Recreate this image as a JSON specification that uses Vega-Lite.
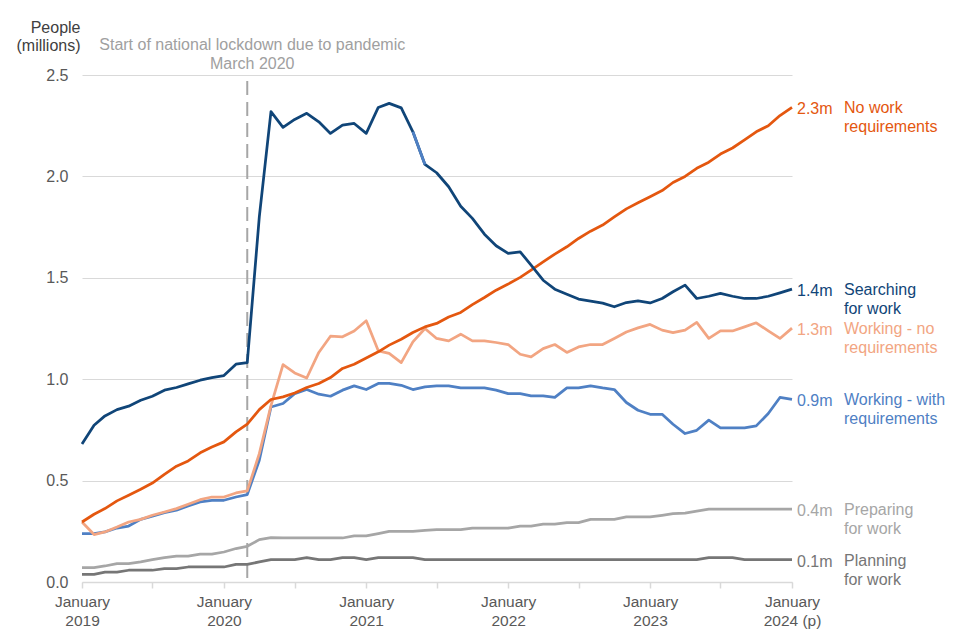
{
  "$schema": "https://vega.github.io/schema/vega-lite/v6.json",
  "width": 710,
  "height": 507,
  "autosize": {"type": "none"},
  "padding": {"left": 82, "top": 75, "right": 168, "bottom": 58},
  "background": "white",
  "config": {
    "font": "Liberation Sans",
    "view": {"stroke": null}
  },
  "datasets": {
    "main": [
      {"m": "2019/01/01", "search": 0.68, "nowork": 0.296, "worknoreq": 0.296, "workwith": 0.239, "prep": 0.071, "plan": 0.038},
      {"m": "2019/02/01", "search": 0.773, "nowork": 0.334, "worknoreq": 0.234, "workwith": 0.239, "prep": 0.071, "plan": 0.038},
      {"m": "2019/03/01", "search": 0.819, "nowork": 0.362, "worknoreq": 0.247, "workwith": 0.247, "prep": 0.079, "plan": 0.049},
      {"m": "2019/04/01", "search": 0.85, "nowork": 0.4, "worknoreq": 0.271, "workwith": 0.266, "prep": 0.091, "plan": 0.049},
      {"m": "2019/05/01", "search": 0.867, "nowork": 0.428, "worknoreq": 0.296, "workwith": 0.276, "prep": 0.091, "plan": 0.058},
      {"m": "2019/06/01", "search": 0.896, "nowork": 0.457, "worknoreq": 0.309, "workwith": 0.309, "prep": 0.099, "plan": 0.058},
      {"m": "2019/07/01", "search": 0.916, "nowork": 0.488, "worknoreq": 0.329, "workwith": 0.324, "prep": 0.11, "plan": 0.058},
      {"m": "2019/08/01", "search": 0.946, "nowork": 0.531, "worknoreq": 0.345, "workwith": 0.342, "prep": 0.12, "plan": 0.066},
      {"m": "2019/09/01", "search": 0.959, "nowork": 0.571, "worknoreq": 0.362, "workwith": 0.354, "prep": 0.128, "plan": 0.066},
      {"m": "2019/10/01", "search": 0.977, "nowork": 0.597, "worknoreq": 0.383, "workwith": 0.375, "prep": 0.128, "plan": 0.074},
      {"m": "2019/11/01", "search": 0.995, "nowork": 0.637, "worknoreq": 0.406, "workwith": 0.395, "prep": 0.137, "plan": 0.074},
      {"m": "2019/12/01", "search": 1.008, "nowork": 0.666, "worknoreq": 0.419, "workwith": 0.403, "prep": 0.137, "plan": 0.074},
      {"m": "2020/01/01", "search": 1.018, "nowork": 0.691, "worknoreq": 0.419, "workwith": 0.403, "prep": 0.148, "plan": 0.074},
      {"m": "2020/02/01", "search": 1.074, "nowork": 0.74, "worknoreq": 0.439, "workwith": 0.419, "prep": 0.165, "plan": 0.087},
      {"m": "2020/03/01", "search": 1.082, "nowork": 0.778, "worknoreq": 0.449, "workwith": 0.431, "prep": 0.176, "plan": 0.087},
      {"m": "2020/04/01", "search": 1.8, "nowork": 0.85, "worknoreq": 0.633, "workwith": 0.6, "prep": 0.209, "plan": 0.099},
      {"m": "2020/05/01", "search": 2.319, "nowork": 0.9, "worknoreq": 0.87, "workwith": 0.863, "prep": 0.219, "plan": 0.11},
      {"m": "2020/06/01", "search": 2.242, "nowork": 0.913, "worknoreq": 1.072, "workwith": 0.88, "prep": 0.217, "plan": 0.11},
      {"m": "2020/07/01", "search": 2.281, "nowork": 0.932, "worknoreq": 1.031, "workwith": 0.929, "prep": 0.217, "plan": 0.11},
      {"m": "2020/08/01", "search": 2.311, "nowork": 0.959, "worknoreq": 1.006, "workwith": 0.949, "prep": 0.217, "plan": 0.12},
      {"m": "2020/09/01", "search": 2.269, "nowork": 0.979, "worknoreq": 1.132, "workwith": 0.926, "prep": 0.217, "plan": 0.11},
      {"m": "2020/10/01", "search": 2.212, "nowork": 1.008, "worknoreq": 1.212, "workwith": 0.916, "prep": 0.217, "plan": 0.11},
      {"m": "2020/11/01", "search": 2.253, "nowork": 1.053, "worknoreq": 1.209, "workwith": 0.946, "prep": 0.217, "plan": 0.12},
      {"m": "2020/12/01", "search": 2.261, "nowork": 1.074, "worknoreq": 1.238, "workwith": 0.967, "prep": 0.227, "plan": 0.12},
      {"m": "2021/01/01", "search": 2.212, "nowork": 1.105, "worknoreq": 1.288, "workwith": 0.949, "prep": 0.227, "plan": 0.11},
      {"m": "2021/02/01", "search": 2.34, "nowork": 1.135, "worknoreq": 1.14, "workwith": 0.979, "prep": 0.239, "plan": 0.12},
      {"m": "2021/03/01", "search": 2.36, "nowork": 1.168, "worknoreq": 1.127, "workwith": 0.979, "prep": 0.25, "plan": 0.12},
      {"m": "2021/04/01", "search": 2.338, "nowork": 1.197, "worknoreq": 1.082, "workwith": 0.97, "prep": 0.25, "plan": 0.12},
      {"m": "2021/05/01", "search": 2.22, "nowork": 1.23, "worknoreq": 1.184, "workwith": 0.949, "prep": 0.25, "plan": 0.12},
      {"m": "2021/06/01", "search": 2.059, "nowork": 1.258, "worknoreq": 1.25, "workwith": 0.962, "prep": 0.255, "plan": 0.11},
      {"m": "2021/07/01", "search": 2.018, "nowork": 1.275, "worknoreq": 1.201, "workwith": 0.967, "prep": 0.258, "plan": 0.11},
      {"m": "2021/08/01", "search": 1.949, "nowork": 1.307, "worknoreq": 1.189, "workwith": 0.967, "prep": 0.258, "plan": 0.11},
      {"m": "2021/09/01", "search": 1.853, "nowork": 1.329, "worknoreq": 1.222, "workwith": 0.957, "prep": 0.258, "plan": 0.11},
      {"m": "2021/10/01", "search": 1.793, "nowork": 1.368, "worknoreq": 1.189, "workwith": 0.957, "prep": 0.266, "plan": 0.11},
      {"m": "2021/11/01", "search": 1.715, "nowork": 1.403, "worknoreq": 1.189, "workwith": 0.957, "prep": 0.266, "plan": 0.11},
      {"m": "2021/12/01", "search": 1.658, "nowork": 1.439, "worknoreq": 1.181, "workwith": 0.946, "prep": 0.266, "plan": 0.11},
      {"m": "2022/01/01", "search": 1.62, "nowork": 1.469, "worknoreq": 1.171, "workwith": 0.929, "prep": 0.266, "plan": 0.11},
      {"m": "2022/02/01", "search": 1.628, "nowork": 1.502, "worknoreq": 1.123, "workwith": 0.929, "prep": 0.276, "plan": 0.11},
      {"m": "2022/03/01", "search": 1.562, "nowork": 1.538, "worknoreq": 1.11, "workwith": 0.918, "prep": 0.276, "plan": 0.11},
      {"m": "2022/04/01", "search": 1.488, "nowork": 1.579, "worknoreq": 1.151, "workwith": 0.918, "prep": 0.285, "plan": 0.11},
      {"m": "2022/05/01", "search": 1.444, "nowork": 1.617, "worknoreq": 1.171, "workwith": 0.91, "prep": 0.285, "plan": 0.11},
      {"m": "2022/06/01", "search": 1.419, "nowork": 1.653, "worknoreq": 1.132, "workwith": 0.957, "prep": 0.293, "plan": 0.11},
      {"m": "2022/07/01", "search": 1.395, "nowork": 1.694, "worknoreq": 1.159, "workwith": 0.957, "prep": 0.293, "plan": 0.11},
      {"m": "2022/08/01", "search": 1.385, "nowork": 1.73, "worknoreq": 1.171, "workwith": 0.967, "prep": 0.309, "plan": 0.11},
      {"m": "2022/09/01", "search": 1.375, "nowork": 1.76, "worknoreq": 1.171, "workwith": 0.957, "prep": 0.309, "plan": 0.11},
      {"m": "2022/10/01", "search": 1.357, "nowork": 1.8, "worknoreq": 1.201, "workwith": 0.949, "prep": 0.309, "plan": 0.11},
      {"m": "2022/11/01", "search": 1.378, "nowork": 1.84, "worknoreq": 1.233, "workwith": 0.885, "prep": 0.321, "plan": 0.11},
      {"m": "2022/12/01", "search": 1.386, "nowork": 1.87, "worknoreq": 1.253, "workwith": 0.847, "prep": 0.321, "plan": 0.11},
      {"m": "2023/01/01", "search": 1.376, "nowork": 1.9, "worknoreq": 1.27, "workwith": 0.827, "prep": 0.321, "plan": 0.11},
      {"m": "2023/02/01", "search": 1.398, "nowork": 1.93, "worknoreq": 1.242, "workwith": 0.827, "prep": 0.329, "plan": 0.11},
      {"m": "2023/03/01", "search": 1.431, "nowork": 1.97, "worknoreq": 1.23, "workwith": 0.778, "prep": 0.337, "plan": 0.11},
      {"m": "2023/04/01", "search": 1.464, "nowork": 2.0, "worknoreq": 1.242, "workwith": 0.732, "prep": 0.34, "plan": 0.11},
      {"m": "2023/05/01", "search": 1.398, "nowork": 2.04, "worknoreq": 1.28, "workwith": 0.748, "prep": 0.349, "plan": 0.11},
      {"m": "2023/06/01", "search": 1.409, "nowork": 2.07, "worknoreq": 1.201, "workwith": 0.798, "prep": 0.359, "plan": 0.12},
      {"m": "2023/07/01", "search": 1.423, "nowork": 2.11, "worknoreq": 1.238, "workwith": 0.76, "prep": 0.359, "plan": 0.12},
      {"m": "2023/08/01", "search": 1.409, "nowork": 2.14, "worknoreq": 1.238, "workwith": 0.76, "prep": 0.359, "plan": 0.12},
      {"m": "2023/09/01", "search": 1.398, "nowork": 2.18, "worknoreq": 1.258, "workwith": 0.76, "prep": 0.359, "plan": 0.11},
      {"m": "2023/10/01", "search": 1.398, "nowork": 2.22, "worknoreq": 1.278, "workwith": 0.77, "prep": 0.359, "plan": 0.11},
      {"m": "2023/11/01", "search": 1.409, "nowork": 2.25, "worknoreq": 1.238, "workwith": 0.831, "prep": 0.359, "plan": 0.11},
      {"m": "2023/12/01", "search": 1.426, "nowork": 2.3, "worknoreq": 1.201, "workwith": 0.91, "prep": 0.359, "plan": 0.11},
      {"m": "2024/01/01", "search": 1.444, "nowork": 2.34, "worknoreq": 1.252, "workwith": 0.9, "prep": 0.359, "plan": 0.11}
    ],
    "labels": [
      {"key": "nowork", "name": "No work\nrequirements"},
      {"key": "search", "name": "Searching\nfor work"},
      {"key": "worknoreq", "name": "Working - no\nrequirements"},
      {"key": "workwith", "name": "Working - with\nrequirements"},
      {"key": "prep", "name": "Preparing\nfor work"},
      {"key": "plan", "name": "Planning\nfor work"}
    ]
  },
  "data": {"name": "main"},
  "layer": [
    {
      "data": {"values": [{"event": "lockdown"}]},
      "mark": {"type": "rule", "color": "#a6a6a6", "strokeWidth": 2, "strokeDash": [14, 7]},
      "encoding": {
        "x": {"datum": {"year": 2020, "month": 3, "date": 1}, "type": "temporal",
              "scale": {"domain": [{"year": 2019, "month": 1, "date": 1}, {"year": 2024, "month": 1, "date": 1}]}},
        "y": {"datum": 2.47, "type": "quantitative", "scale": {"domain": [0, 2.5], "nice": false}},
        "y2": {"datum": 0}
      }
    },
    {
      "data": {"values": [{"event": "lockdown"}]},
      "mark": {"type": "text", "color": "#a0a0a0", "fontSize": 16, "align": "center", "baseline": "bottom", "lineHeight": 19, "dx": 5, "dy": -22},
      "encoding": {
        "x": {"datum": {"year": 2020, "month": 3, "date": 1}, "type": "temporal"},
        "y": {"datum": 2.5, "type": "quantitative"},
        "text": {"value": ["Start of national lockdown due to pandemic", "March 2020"]}
      }
    },
    {
      "transform": [{"fold": ["plan", "prep", "workwith", "worknoreq", "nowork", "search"], "as": ["key", "value"]}],
      "mark": {"type": "line", "strokeWidth": 2.75, "strokeJoin": "round"},
      "encoding": {
        "x": {"field": "m", "type": "temporal",
              "scale": {"domain": [{"year": 2019, "month": 1, "date": 1}, {"year": 2024, "month": 1, "date": 1}]},
              "axis": {
                "title": null,
                "grid": false,
                "values": [
                  {"year": 2019, "month": 1, "date": 1}, {"year": 2019, "month": 7, "date": 1},
                  {"year": 2020, "month": 1, "date": 1}, {"year": 2020, "month": 7, "date": 1},
                  {"year": 2021, "month": 1, "date": 1}, {"year": 2021, "month": 7, "date": 1},
                  {"year": 2022, "month": 1, "date": 1}, {"year": 2022, "month": 7, "date": 1},
                  {"year": 2023, "month": 1, "date": 1}, {"year": 2023, "month": 7, "date": 1},
                  {"year": 2024, "month": 1, "date": 1}
                ],
                "labelExpr": "month(datum.value) == 0 ? ['January', year(datum.value) == 2024 ? '2024 (p)' : '' + year(datum.value)] : ''",
                "domainColor": "#d9d9d9",
                "domainWidth": 1.5,
                "tickColor": "#d9d9d9",
                "tickSize": 6,
                "tickWidth": 1.5,
                "labelColor": "#595959",
                "labelFontSize": 15.5,
                "labelLineHeight": 19,
                "labelPadding": 6,
                "labelFlush": false,
                "labelOverlap": false,
                "labelBound": false
              }},
        "y": {"field": "value", "type": "quantitative",
              "scale": {"domain": [0, 2.5], "nice": false},
              "axis": {
                "values": [0, 0.5, 1, 1.5, 2, 2.5],
                "format": ".1f",
                "domain": false,
                "ticks": false,
                "grid": true,
                "gridColor": "#d9d9d9",
                "gridWidth": 1.2,
                "labelColor": "#595959",
                "labelFontSize": 16,
                "labelPadding": 14,
                "title": ["People", "(millions)"],
                "titleAngle": 0,
                "titleAlign": "right",
                "titleBaseline": "top",
                "titleX": -2,
                "titleY": -56,
                "titleLineHeight": 18,
                "titleFontSize": 16,
                "titleFontWeight": "normal",
                "titleColor": "#404040"
              }},
        "color": {"field": "key", "type": "nominal", "legend": null,
                  "scale": {"domain": ["search", "nowork", "worknoreq", "workwith", "prep", "plan"],
                            "range": ["#104578", "#e4570f", "#f2a582", "#4f80c4", "#a6a6a6", "#767676"]}}
      }
    },
    {
      "transform": [
        {"fold": ["search"], "as": ["key", "value"]},
        {"filter": "year(datum.m) == 2021 && (month(datum.m) == 4 || month(datum.m) == 5)"}
      ],
      "mark": {"type": "line", "strokeWidth": 2.75, "color": "#4f80c4", "strokeCap": "butt"},
      "encoding": {
        "x": {"field": "m", "type": "temporal"},
        "y": {"field": "value", "type": "quantitative"}
      }
    },
    {
      "transform": [
        {"fold": ["search", "nowork", "worknoreq", "workwith", "prep", "plan"], "as": ["key", "value"]},
        {"filter": "year(datum.m) == 2024"},
        {"calculate": "format(datum.value, '.1f') + 'm'", "as": "lab"}
      ],
      "mark": {"type": "text", "fontSize": 16, "align": "left", "baseline": "middle", "dx": 5, "dy": 2},
      "encoding": {
        "x": {"field": "m", "type": "temporal"},
        "y": {"field": "value", "type": "quantitative"},
        "text": {"field": "lab"},
        "color": {"field": "key", "type": "nominal", "legend": null}
      }
    },
    {
      "transform": [
        {"fold": ["search", "nowork", "worknoreq", "workwith", "prep", "plan"], "as": ["key", "value"]},
        {"filter": "year(datum.m) == 2024"},
        {"lookup": "key", "from": {"data": {"name": "labels"}, "key": "key", "fields": ["name"]}}
      ],
      "mark": {"type": "text", "fontSize": 16, "align": "left", "baseline": "top", "lineBreak": "\n", "lineHeight": 19, "dx": 52, "dy": -7},
      "encoding": {
        "x": {"field": "m", "type": "temporal"},
        "y": {"field": "value", "type": "quantitative"},
        "text": {"field": "name"},
        "color": {"field": "key", "type": "nominal", "legend": null}
      }
    }
  ]
}
